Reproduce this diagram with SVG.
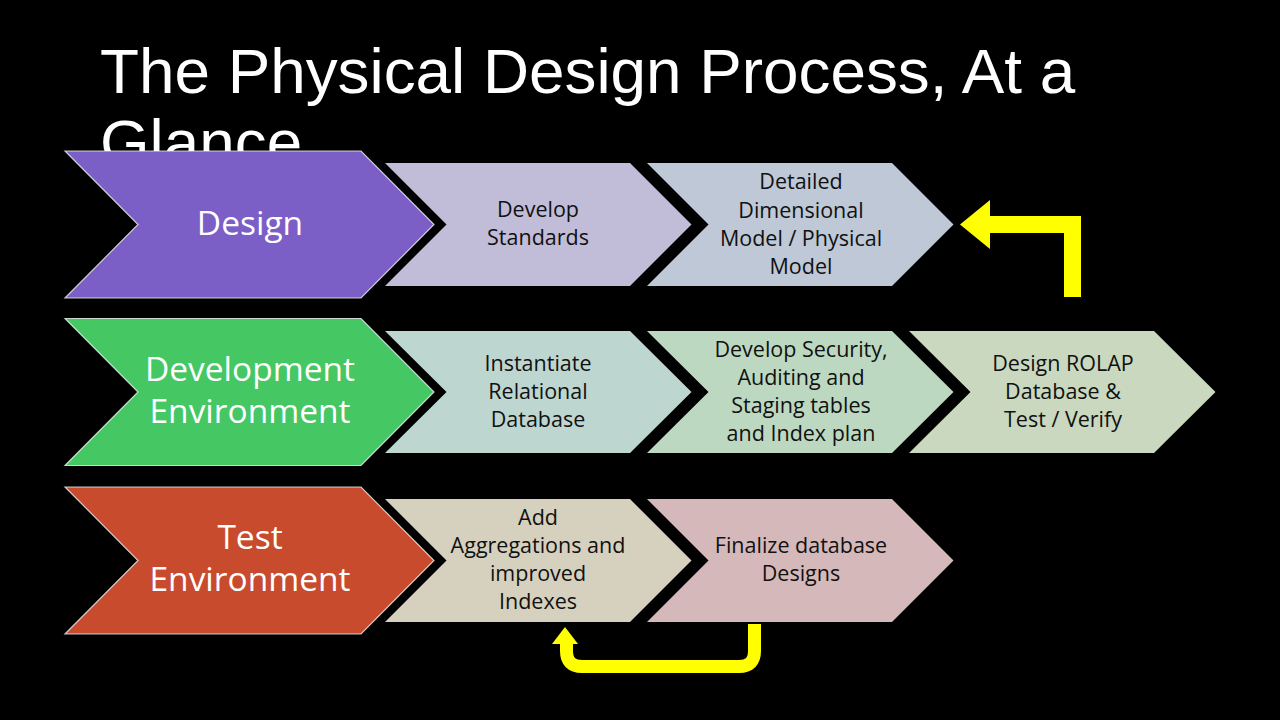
<svg xmlns="http://www.w3.org/2000/svg" width="1280" height="720" viewBox="0 0 1280 720">
  <style>
    .title { font-family: "Liberation Sans", Arial, sans-serif; font-size: 63.8px; fill: #ffffff; }
    .big { stroke: #ffffff; stroke-opacity: 0.75; stroke-width: 1.2; }
    .bigtxt { font-family: "Open Sans", "Noto Sans", sans-serif; font-size: 33.5px; fill: #ffffff; text-anchor: middle; }
    .smtxt { font-family: "Open Sans", "Noto Sans", sans-serif; font-size: 21.5px; fill: #111111; text-anchor: middle; }
    .yel { fill: none; stroke: #ffff00; }
  </style>
  <rect x="0" y="0" width="1280" height="720" fill="#000000"/>

  <g id="title">
    <text class="title" x="100" y="93">The Physical Design Process, At a</text>
    <text class="title" x="100" y="164">Glance</text>
  </g>

  <!-- Row 1 -->
  <g id="design">
    <polygon class="big" fill="#7B5EC6" points="65,151 361,151 434,224.5 361,298 65,298 138,224.5"/>
    <text class="bigtxt" x="250" y="235">Design</text>
  </g>
  <g id="develop-standards">
    <polygon fill="#C1BCD8" points="385,163 630,163 691.5,224.5 630,286 385,286 446.5,224.5"/>
    <text class="smtxt"><tspan x="538" y="217">Develop</tspan><tspan x="538" y="245">Standards</tspan></text>
  </g>
  <g id="detailed-model">
    <polygon fill="#BEC8D6" points="647,163 892,163 953.5,224.5 892,286 647,286 708.5,224.5"/>
    <text class="smtxt"><tspan x="801" y="189">Detailed</tspan><tspan x="801" y="217.5">Dimensional</tspan><tspan x="801" y="246">Model / Physical</tspan><tspan x="801" y="274">Model</tspan></text>
  </g>

  <!-- Row 2 -->
  <g id="development-environment">
    <polygon class="big" fill="#45C764" points="65,318.5 361,318.5 434,392 361,465.5 65,465.5 138,392"/>
    <text class="bigtxt"><tspan x="250" y="381">Development</tspan><tspan x="250" y="423">Environment</tspan></text>
  </g>
  <g id="instantiate">
    <polygon fill="#BED6D0" points="385,331 630,331 691.5,392 630,453 385,453 446.5,392"/>
    <text class="smtxt"><tspan x="538" y="371">Instantiate</tspan><tspan x="538" y="399">Relational</tspan><tspan x="538" y="427">Database</tspan></text>
  </g>
  <g id="security">
    <polygon fill="#BDD8C0" points="647,331 892,331 953.5,392 892,453 647,453 708.5,392"/>
    <text class="smtxt"><tspan x="801" y="357">Develop Security,</tspan><tspan x="801" y="385">Auditing and</tspan><tspan x="801" y="413">Staging tables</tspan><tspan x="801" y="441">and Index plan</tspan></text>
  </g>
  <g id="rolap">
    <polygon fill="#C9D8BE" points="909,331 1154,331 1215.5,392 1154,453 909,453 970.5,392"/>
    <text class="smtxt"><tspan x="1063" y="371">Design ROLAP</tspan><tspan x="1063" y="399">Database &amp;</tspan><tspan x="1063" y="427">Test / Verify</tspan></text>
  </g>

  <!-- Row 3 -->
  <g id="test-environment">
    <polygon class="big" fill="#C84B2E" points="65,487 361,487 434,560.5 361,634 65,634 138,560.5"/>
    <text class="bigtxt"><tspan x="250" y="549">Test</tspan><tspan x="250" y="591">Environment</tspan></text>
  </g>
  <g id="aggregations">
    <polygon fill="#D6D0BE" points="385,499 630,499 691.5,560.5 630,622 385,622 446.5,560.5"/>
    <text class="smtxt"><tspan x="538" y="525">Add</tspan><tspan x="538" y="553">Aggregations and</tspan><tspan x="538" y="581">improved</tspan><tspan x="538" y="609">Indexes</tspan></text>
  </g>
  <g id="finalize">
    <polygon fill="#D5B8B9" points="647,499 892,499 953.5,560.5 892,622 647,622 708.5,560.5"/>
    <text class="smtxt"><tspan x="801" y="553">Finalize database</tspan><tspan x="801" y="581">Designs</tspan></text>
  </g>

  <g id="connectors">
    <path class="yel" stroke-width="17" stroke-linejoin="miter" d="M988,224.5 L1072.5,224.5 L1072.5,297"/>
    <polygon fill="#ffff00" points="960,224.5 990,200 990,249"/>
    <path class="yel" stroke-width="13" stroke-linejoin="round" d="M754.5,624 L754.5,651 Q754.5,666.5 739,666.5 L582,666.5 Q566.5,666.5 566.5,651 L566.5,642"/>
    <polygon fill="#ffff00" points="565,627 552,644 578,644"/>
  </g>
</svg>
